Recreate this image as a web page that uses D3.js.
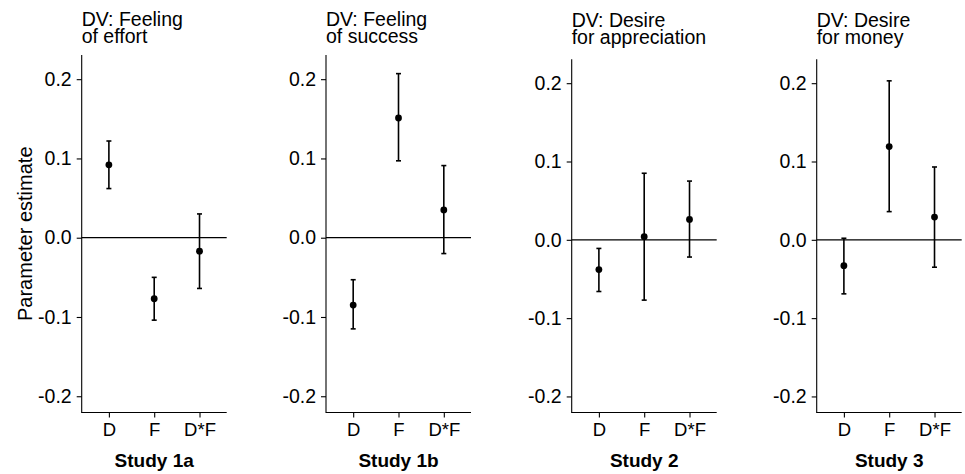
<!DOCTYPE html>
<html>
<head>
<meta charset="utf-8">
<script src="https://cdn.jsdelivr.net/npm/d3@7"></script>
<style>
  html, body { margin: 0; padding: 0; background: #fff; }
  svg { display: block; font-family: "Liberation Sans", Arial, Helvetica, sans-serif; }
</style>
</head>
<body>
<svg id="chart" width="965" height="474"></svg>
<script>
// ---- data ----
const studies = ["Study 1a", "Study 1b", "Study 2", "Study 3"];
const titleLine1 = ["DV: Feeling", "DV: Feeling", "DV: Desire", "DV: Desire"];
const titleLine2 = ["of effort", "of success", "for appreciation", "for money"];
const terms = ["D", "F", "D*F"];
const estimates = [
  [0.092, -0.077, -0.017],
  [-0.085, 0.151, 0.035],
  [-0.038, 0.004, 0.026],
  [-0.033, 0.119, 0.029]
];
const lowerCI = [
  [0.062, -0.104, -0.064],
  [-0.115, 0.097, -0.020],
  [-0.066, -0.077, -0.022],
  [-0.069, 0.036, -0.035]
];
const upperCI = [
  [0.122, -0.050, 0.030],
  [-0.053, 0.207, 0.091],
  [-0.011, 0.085, 0.075],
  [0.002, 0.203, 0.093]
];
const yTicks = [-0.2, -0.1, 0.0, 0.1, 0.2];
const yLabel = "Parameter estimate";

// ---- layout ----
const panelLeft = [81.7, 326, 571.7, 816.7];
const panelWidth = 145;
const panelTop = [55, 55, 59.3, 59.3];
const panelBottom = 412.5;
const yDomain = [-0.2205, 0.2305];
const FONT = "Liberation Sans, Arial, sans-serif";

const svg = d3.select("#chart");
const fmt = d => d.toFixed(1);

studies.forEach((study, i) => {
  const x0 = panelLeft[i];
  const x = d3.scalePoint().domain(terms).range([x0, x0 + panelWidth]).padding(0.6);
  const y = d3.scaleLinear().domain(yDomain).range([panelBottom, panelTop[i]]);
  const g = svg.append("g");

  // y axis
  const yAxis = d3.axisLeft(y).tickValues(yTicks).tickFormat(fmt).tickSize(5).tickPadding(5);
  const gy = g.append("g").attr("transform", `translate(${x0},0)`).call(yAxis);
  gy.select(".domain").attr("d", `M0,${panelTop[i]}V${panelBottom + 0.5}`)
    .attr("stroke", "#000").attr("stroke-width", 1.1);
  gy.selectAll(".tick line").attr("stroke", "#000").attr("stroke-width", 1.1);
  gy.selectAll(".tick text").attr("fill", "#000").attr("font-size", 19.5)
    .attr("font-family", FONT);

  // x axis
  const xAxis = d3.axisBottom(x).tickSize(5).tickPadding(5);
  const gx = g.append("g").attr("transform", `translate(0,${panelBottom})`).call(xAxis);
  gx.select(".domain").attr("d", `M${x0},0H${x0 + panelWidth}`)
    .attr("stroke", "#000").attr("stroke-width", 1.1);
  gx.selectAll(".tick line").attr("stroke", "#000").attr("stroke-width", 1.1);
  gx.selectAll(".tick text").attr("fill", "#000").attr("font-size", 18.5)
    .attr("font-family", FONT);

  // zero line
  g.append("line")
    .attr("x1", x0).attr("x2", x0 + panelWidth)
    .attr("y1", y(0)).attr("y2", y(0))
    .attr("stroke", "#000").attr("stroke-width", 1.3);

  const rows = terms.map((t, j) => ({ term: t, est: estimates[i][j], lo: lowerCI[i][j], hi: upperCI[i][j] }));

  // error bars
  g.selectAll(".eb").data(rows).enter().append("line")
    .attr("x1", d => x(d.term)).attr("x2", d => x(d.term))
    .attr("y1", d => y(d.lo)).attr("y2", d => y(d.hi))
    .attr("stroke", "#000").attr("stroke-width", 1.6);
  ["lo", "hi"].forEach(k => {
    g.selectAll(".cap" + k).data(rows).enter().append("line")
      .attr("x1", d => x(d.term) - 2.5).attr("x2", d => x(d.term) + 2.5)
      .attr("y1", d => y(d[k])).attr("y2", d => y(d[k]))
      .attr("stroke", "#000").attr("stroke-width", 1.6);
  });

  // points
  g.selectAll(".pt").data(rows).enter().append("circle")
    .attr("cx", d => x(d.term)).attr("cy", d => y(d.est)).attr("r", 3.4)
    .attr("fill", "#000");

  // title
  const dy = (panelTop[i] - 55) * 0.3;
  const title = g.append("text").attr("x", x0).attr("font-size", 19.5).attr("fill", "#000");
  title.append("tspan").attr("x", x0).attr("y", 26 + dy).text(titleLine1[i]);
  title.append("tspan").attr("x", x0).attr("y", 43 + dy).text(titleLine2[i]);

  // study label
  g.append("text")
    .attr("x", x0 + panelWidth / 2).attr("y", 467)
    .attr("text-anchor", "middle").attr("font-size", 19).attr("font-weight", "bold")
    .attr("fill", "#000").text(study);
});

// y label
svg.append("text")
  .attr("transform", `translate(31.5,${(55 + panelBottom) / 2}) rotate(-90)`)
  .attr("text-anchor", "middle").attr("font-size", 20).attr("fill", "#000")
  .text(yLabel);
</script>
</body>
</html>
